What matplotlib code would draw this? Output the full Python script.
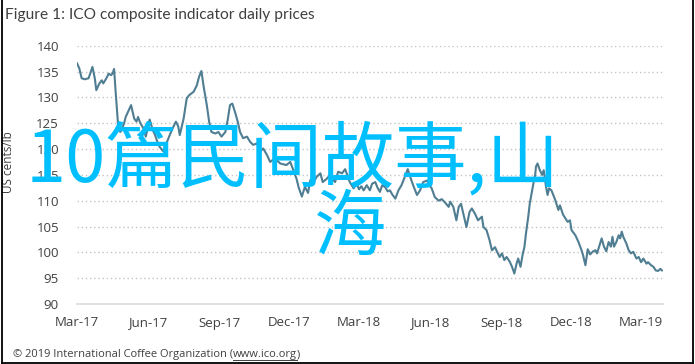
import numpy as np
import matplotlib.pyplot as plt
import matplotlib.dates as mdates
from matplotlib.lines import Line2D

# days since 1 Mar 2017 and ICO composite price (US cents/lb)
start = np.datetime64('2017-03-01')
days = [0, 3, 6, 10, 15, 17, 20, 23, 25, 29, 32, 34, 38, 41, 44, 46, 48, 50, 53, 56,
        58, 61, 63, 66, 70, 72, 74, 77, 79, 82, 86, 89, 92, 94, 98, 101, 104, 107, 112, 116,
        120, 125, 128, 131, 133, 138, 140, 142, 145, 151, 155, 158, 161, 164, 168, 171, 174, 179, 183, 187,
        192, 195, 198, 201, 205, 208, 211, 215, 220, 224, 228, 233, 237, 241, 246, 250, 256, 263, 271, 276,
        280, 284, 287, 291, 295, 299, 302, 305, 310, 315, 318, 323, 327, 334, 338, 343, 347, 351, 353, 358,
        362, 365, 368, 371, 375, 379, 382, 386, 389, 392, 395, 399, 402, 405, 408, 412, 416, 420, 425, 428,
        431, 435, 440, 444, 448, 453, 456, 459, 463, 468, 472, 476, 481, 483, 487, 491, 494, 497, 500, 504,
        508, 511, 515, 519, 524, 526, 530, 534, 537, 541, 544, 547, 550, 553, 556, 560, 563, 566, 569, 571,
        574, 577, 579, 581, 584, 586, 589, 591, 593, 594, 596, 599, 602, 604, 607, 609, 611, 614, 619, 623,
        625, 629, 632, 635, 638, 640, 645, 649, 653, 655, 658, 661, 664, 668, 671, 673, 677, 679, 682, 685,
        688, 691, 693, 695, 698, 701, 703, 705, 707, 711, 714, 717, 720, 724, 727, 730, 733, 737, 739, 743,
        746, 749, 752, 755, 757]
prices = [136.6, 135.6, 133.7, 133.5, 133.7, 134.6, 135.9, 133.7, 131.4, 132.7,
          133.3, 132.7, 133.7, 134.6, 134.3, 134.6, 135.5, 131.1, 125.0, 123.3,
          123.8, 125.0, 126.2, 127.2, 128.5, 127.2, 125.9, 125.3, 126.2, 125.0,
          124.0, 122.4, 124.4, 125.7, 123.7, 122.7, 121.4, 120.4, 119.5, 121.2,
          122.7, 124.4, 125.3, 124.4, 122.7, 125.9, 127.9, 129.8, 130.4, 131.1,
          132.3, 134.0, 135.1, 132.0, 128.5, 125.3, 123.3, 123.0, 123.3, 122.4,
          123.3, 125.6, 128.5, 128.8, 126.9, 125.3, 123.3, 122.1, 122.4, 121.4,
          120.8, 121.1, 119.5, 120.1, 118.8, 117.5, 118.2, 117.2, 116.9, 117.5,
          115.9, 114.3, 112.5, 110.8, 112.7, 111.5, 114.0, 113.2, 114.6, 115.3,
          113.6, 114.2, 114.9, 113.6, 115.6, 115.3, 116.1, 114.5, 113.6, 112.4,
          113.3, 112.2, 112.8, 112.0, 113.0, 112.0, 113.3, 113.6, 112.5, 111.7,
          113.0, 112.6, 111.8, 112.0, 111.2, 110.4, 112.0, 113.0, 114.9, 116.1,
          114.7, 113.0, 111.1, 112.0, 113.6, 113.9, 113.0, 112.4, 110.7, 110.0,
          110.3, 109.7, 108.8, 109.8, 108.8, 106.2, 108.8, 109.4, 107.5, 104.9,
          107.8, 108.5, 107.5, 106.2, 106.9, 104.9, 104.3, 102.3, 100.4, 101.0,
          100.0, 99.1, 99.8, 98.5, 99.1, 98.2, 97.2, 95.9, 97.9, 98.8,
          97.2, 99.8, 101.0, 103.6, 106.9, 109.5, 112.0, 113.6, 115.0, 116.6,
          117.2, 115.9, 115.0, 115.9, 112.7, 111.1, 112.4, 112.0, 110.1, 108.2,
          109.1, 107.3, 106.6, 105.9, 106.2, 104.3, 103.3, 102.0, 100.4, 99.4,
          97.5, 100.6, 99.6, 100.2, 100.4, 99.8, 101.7, 102.7, 101.1, 100.2,
          102.0, 101.1, 103.0, 101.1, 102.0, 103.3, 102.7, 104.0, 103.0, 101.7,
          100.4, 99.8, 100.1, 98.8, 99.1, 98.1, 98.8, 97.8, 98.1, 97.5,
          97.2, 96.5, 96.4, 96.8, 96.5]
y_ticks = [90, 95, 100, 105, 110, 115, 120, 125, 130, 135, 140]

title = "Figure 1: ICO composite indicator daily prices"
y_label = "US cents/lb"
source_pre = "\u00a9 2019 International Coffee Organization ("
source_link = "www.ico.org"
source_post = ")"
overlay_1 = "10篇民间故事,山"
overlay_2 = "海"

dates = start + np.array(days).astype('timedelta64[D]')

W, H = 695, 364
fig = plt.figure(figsize=(W / 100, H / 100), dpi=100)
ax = fig.add_axes([77 / W, 1 - 304 / H, 585.7 / W, 258.3 / H])

ax.plot(dates, prices, color='#4f7d92', lw=1.5, zorder=3)
ax.set_xlim(start, start + np.timedelta64(758, 'D'))
ax.set_ylim(90, 140)
ax.set_yticks(y_ticks)
ax.xaxis.set_major_locator(mdates.MonthLocator(bymonth=[3, 6, 9, 12]))
ax.xaxis.set_major_formatter(mdates.DateFormatter('%b-%y'))

for y in y_ticks[1:]:
    ax.axhline(y, color='#c4c4c4', lw=1.0, ls=(0, (1, 2)), zorder=1)

for s in ['top', 'right', 'left']:
    ax.spines[s].set_visible(False)
ax.spines['bottom'].set_color('#d9d9d9')
ax.spines['bottom'].set_linewidth(1.2)
ax.tick_params(length=0, labelsize=9.5, labelcolor='#404040')
ax.tick_params(axis='y', pad=13)
ax.tick_params(axis='x', pad=9)
for lab in ax.get_xticklabels() + ax.get_yticklabels():
    lab.set_family('Open Sans')

ax.set_ylabel(y_label, fontsize=8.5, color='#404040', family='Open Sans')
ax.yaxis.set_label_coords(-0.106, 0.55)

fig.text(5 / W, 1 - 15 / H, title, fontsize=11.2, family='Lato', color='#404040',
         ha='left', va='center')

src = fig.text(13 / W, 1 - 355 / H, source_pre, fontsize=8, family='Open Sans',
               color='#404040', ha='left', va='center')
r = fig.canvas.get_renderer()
bb = src.get_window_extent(r)
link = fig.text(bb.x1 / W, 1 - 355 / H, source_link, fontsize=8, family='Open Sans',
                color='#404040', ha='left', va='center')
bb2 = link.get_window_extent(r)
fig.text(bb2.x1 / W, 1 - 355 / H, source_post, fontsize=8, family='Open Sans',
         color='#404040', ha='left', va='center')
fig.add_artist(Line2D([bb2.x0 / W, bb2.x1 / W], [(bb2.y0 + 1) / H] * 2,
                      color='#404040', lw=0.7))

# frame round the picture
for xs, ys in [([1.5 / W, 1.5 / W], [0, 1]), ([692.5 / W, 692.5 / W], [0, 1]),
               ([1.5 / W, 692.5 / W], [1.5 / H, 1.5 / H])]:
    fig.add_artist(Line2D(xs, ys, color='black', lw=1.3))

# big overlay text
cjk = ['Noto Sans CJK SC', 'DejaVu Sans']
fig.text(26 / W, 1 - 160 / H, overlay_1, fontsize=52, family=cjk, color='#00bfff',
         ha='left', va='center', zorder=10)
fig.text(314 / W, 1 - 229 / H, overlay_2, fontsize=52, family=cjk, color='#00bfff',
         ha='left', va='center', zorder=10)

fig.savefig('out.png', dpi=100)
